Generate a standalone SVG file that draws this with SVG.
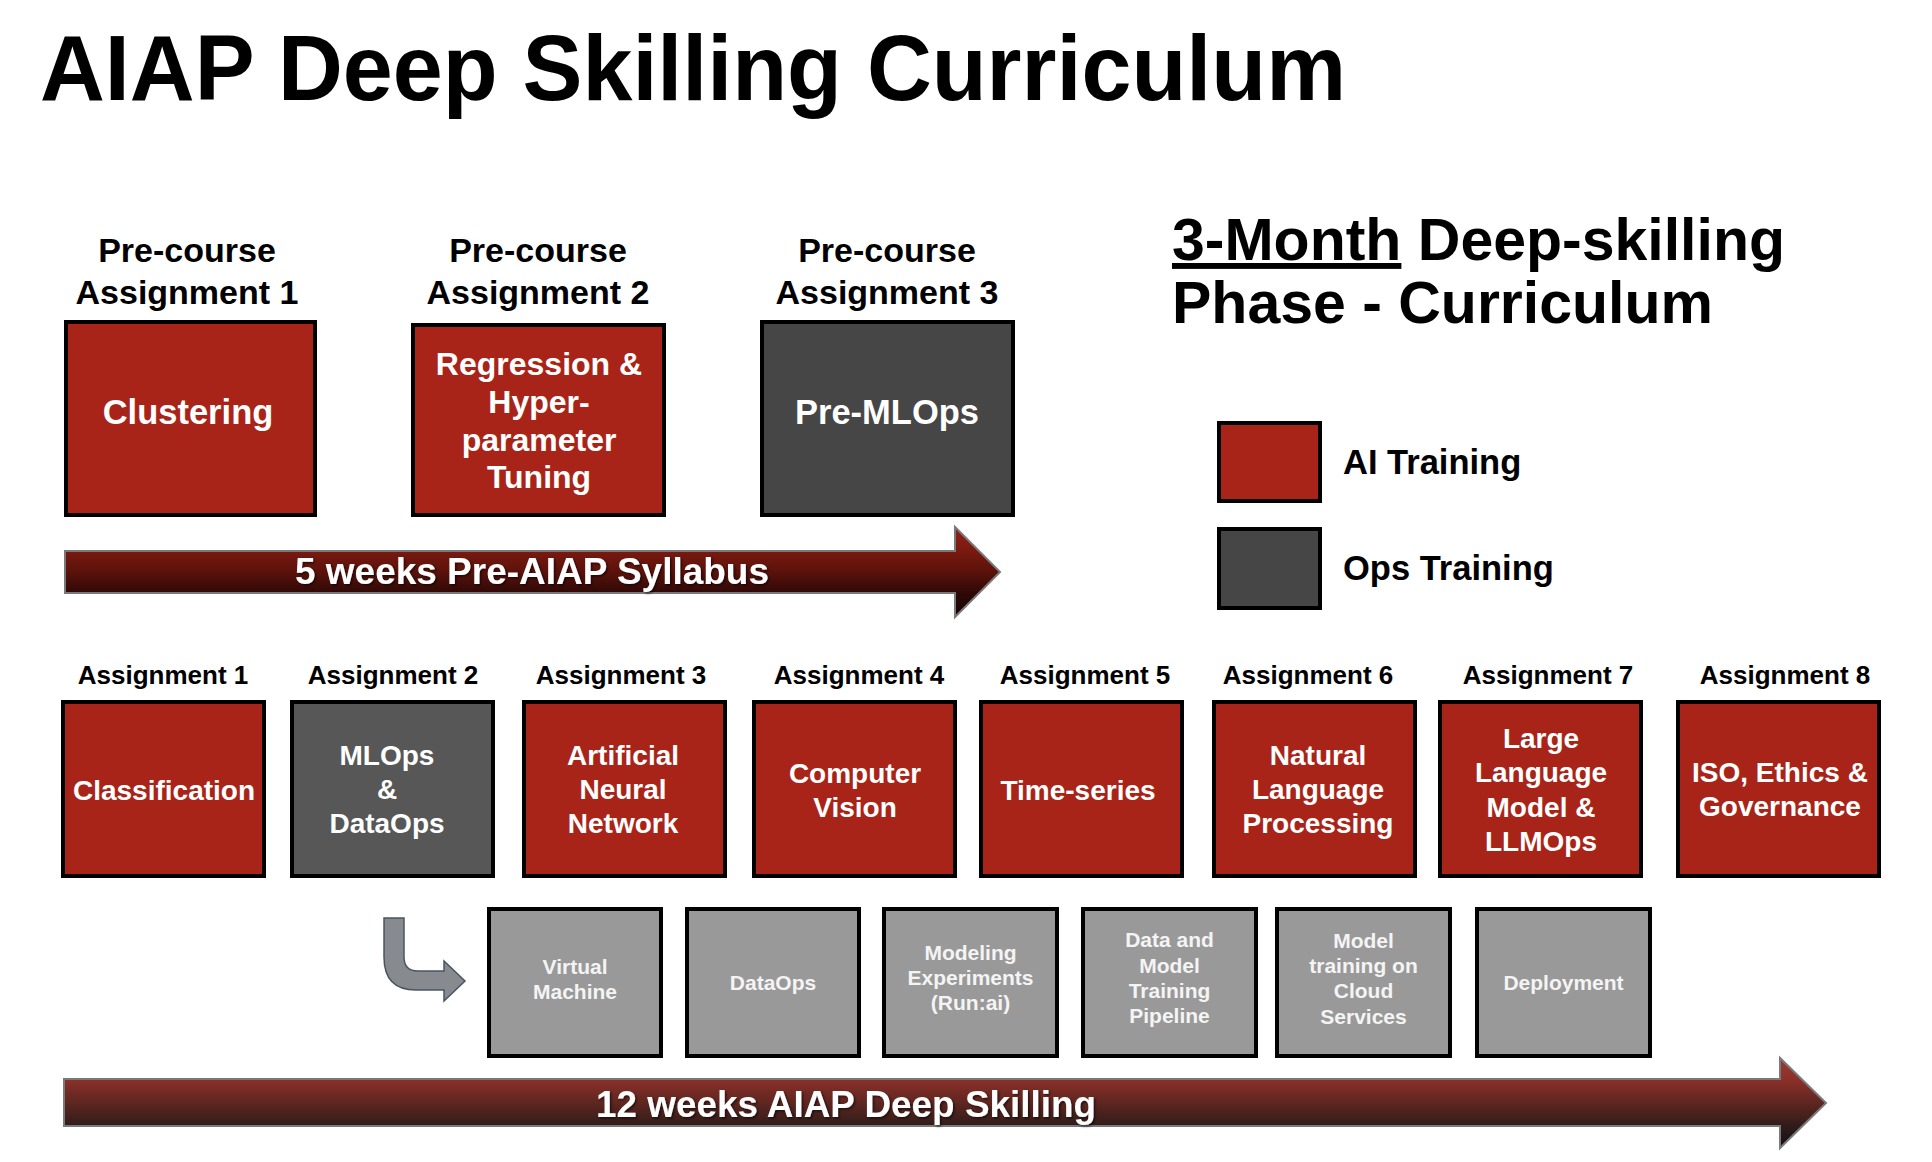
<svg xmlns="http://www.w3.org/2000/svg" width="1932" height="1162" viewBox="0 0 1932 1162">
<style>
text{font-family:"Liberation Sans",Arial,Helvetica,sans-serif;font-weight:bold}
.title{font-size:93px;fill:#000}
.hdr{font-size:59px;fill:#000}
.plabel{font-size:34px;fill:#000;text-anchor:middle}
.alabel{font-size:26px;fill:#000;text-anchor:middle}
.legtxt{font-size:34.5px;fill:#000}
.big{font-size:34.5px;fill:#fff;text-anchor:middle}
.mid{font-size:32px;fill:#fff;text-anchor:middle}
.btxt{font-size:28px;fill:#fff;text-anchor:middle}
.gtxt{font-size:21px;fill:#f4f4f4;text-anchor:middle}
.arrtxt{font-size:36px;fill:#fff;text-anchor:middle}
.red{fill:#A92418;stroke:#000;stroke-width:4}
.dark{fill:#464646;stroke:#000;stroke-width:4}
.mid-dark{fill:#575757;stroke:#000;stroke-width:4}
.grey{fill:#999999;stroke:#000;stroke-width:4}
</style>
<defs>
<linearGradient id="g1" gradientUnits="userSpaceOnUse" x1="0" y1="527" x2="0" y2="617">
<stop offset="0" stop-color="#8e2218"/>
<stop offset="0.25" stop-color="#7c1a10"/>
<stop offset="0.5" stop-color="#5a120b"/>
<stop offset="0.75" stop-color="#2c0806"/>
<stop offset="1" stop-color="#140303"/>
</linearGradient>
<linearGradient id="g2" gradientUnits="userSpaceOnUse" x1="0" y1="1058" x2="0" y2="1148">
<stop offset="0" stop-color="#9a3b31"/>
<stop offset="0.23" stop-color="#8c3129"/>
<stop offset="0.5" stop-color="#5e2620"/>
<stop offset="0.76" stop-color="#2f1c1a"/>
<stop offset="1" stop-color="#121010"/>
</linearGradient>
<filter id="sh" x="-5%" y="-20%" width="110%" height="150%">
<feDropShadow dx="1.5" dy="1.5" stdDeviation="1" flood-color="#000" flood-opacity="0.6"/>
</filter>
</defs>
<rect x="0" y="0" width="1932" height="1162" fill="#fff"/>

<g id="title">
<text class="title" x="40" y="100" textLength="1306" lengthAdjust="spacingAndGlyphs">AIAP Deep Skilling Curriculum</text>
</g>

<g id="header">
<text class="hdr" x="1172" y="260"><tspan text-decoration="underline">3-Month</tspan> Deep-skilling</text>
<text class="hdr" x="1172" y="323">Phase - Curriculum</text>
</g>

<g id="legend">
<g id="legend-ai">
<rect class="red" x="1219" y="423" width="101" height="78"/>
<text class="legtxt" x="1343" y="474">AI Training</text>
</g>
<g id="legend-ops">
<rect class="dark" x="1219" y="529" width="101" height="79"/>
<text class="legtxt" x="1343" y="580">Ops Training</text>
</g>
</g>

<g id="pre1">
<text class="plabel" x="187" y="262">Pre-course</text>
<text class="plabel" x="187" y="304">Assignment 1</text>
<rect class="red" x="66" y="322" width="249" height="193"/>
<text class="big" x="188" y="424">Clustering</text>
</g>
<g id="pre2">
<text class="plabel" x="538" y="262">Pre-course</text>
<text class="plabel" x="538" y="304">Assignment 2</text>
<rect class="red" x="413" y="325" width="251" height="190"/>
<text class="mid" x="539" y="375">Regression &amp;</text>
<text class="mid" x="539" y="413">Hyper-</text>
<text class="mid" x="539" y="451">parameter</text>
<text class="mid" x="539" y="488">Tuning</text>
</g>
<g id="pre3">
<text class="plabel" x="887" y="262">Pre-course</text>
<text class="plabel" x="887" y="304">Assignment 3</text>
<rect class="dark" x="762" y="322" width="251" height="193"/>
<text class="big" x="887" y="424">Pre-MLOps</text>
</g>

<g id="timeline-pre">
<path d="M65,551 H955 V527 L1000,572 L955,617 V593 H65 Z" fill="url(#g1)" stroke="#7a7a7a" stroke-width="2"/>
<text class="arrtxt" x="532" y="584" textLength="474" lengthAdjust="spacingAndGlyphs" filter="url(#sh)">5 weeks Pre-AIAP Syllabus</text>
</g>

<g id="a1">
<text class="alabel" x="163" y="684">Assignment 1</text>
<rect class="red" x="63" y="702" width="201" height="174"/>
<text class="btxt" x="164" y="800">Classification</text>
</g>
<g id="a2">
<text class="alabel" x="393" y="684">Assignment 2</text>
<rect class="mid-dark" x="292" y="702" width="201" height="174"/>
<text class="btxt" x="387" y="765">MLOps</text>
<text class="btxt" x="387" y="799">&amp;</text>
<text class="btxt" x="387" y="833">DataOps</text>
</g>
<g id="a3">
<text class="alabel" x="621" y="684">Assignment 3</text>
<rect class="red" x="524" y="702" width="201" height="174"/>
<text class="btxt" x="623" y="765">Artificial</text>
<text class="btxt" x="623" y="799">Neural</text>
<text class="btxt" x="623" y="833">Network</text>
</g>
<g id="a4">
<text class="alabel" x="859" y="684">Assignment 4</text>
<rect class="red" x="754" y="702" width="201" height="174"/>
<text class="btxt" x="855" y="783">Computer</text>
<text class="btxt" x="855" y="817">Vision</text>
</g>
<g id="a5">
<text class="alabel" x="1085" y="684">Assignment 5</text>
<rect class="red" x="981" y="702" width="201" height="174"/>
<text class="btxt" x="1078" y="800">Time-series</text>
</g>
<g id="a6">
<text class="alabel" x="1308" y="684">Assignment 6</text>
<rect class="red" x="1214" y="702" width="201" height="174"/>
<text class="btxt" x="1318" y="765">Natural</text>
<text class="btxt" x="1318" y="799">Language</text>
<text class="btxt" x="1318" y="833">Processing</text>
</g>
<g id="a7">
<text class="alabel" x="1548" y="684">Assignment 7</text>
<rect class="red" x="1440" y="702" width="201" height="174"/>
<text class="btxt" x="1541" y="748">Large</text>
<text class="btxt" x="1541" y="782">Language</text>
<text class="btxt" x="1541" y="817">Model &amp;</text>
<text class="btxt" x="1541" y="851">LLMOps</text>
</g>
<g id="a8">
<text class="alabel" x="1785" y="684">Assignment 8</text>
<rect class="red" x="1678" y="702" width="201" height="174"/>
<text class="btxt" x="1780" y="782">ISO, Ethics &amp;</text>
<text class="btxt" x="1780" y="816">Governance</text>
</g>

<g id="ops1">
<rect class="grey" x="489" y="909" width="172" height="147"/>
<text class="gtxt" x="575" y="974">Virtual</text>
<text class="gtxt" x="575" y="999">Machine</text>
</g>
<g id="ops2">
<rect class="grey" x="687" y="909" width="172" height="147"/>
<text class="gtxt" x="773" y="990">DataOps</text>
</g>
<g id="ops3">
<rect class="grey" x="884" y="909" width="173" height="147"/>
<text class="gtxt" x="970.5" y="960">Modeling</text>
<text class="gtxt" x="970.5" y="985">Experiments</text>
<text class="gtxt" x="970.5" y="1010">(Run:ai)</text>
</g>
<g id="ops4">
<rect class="grey" x="1083" y="909" width="173" height="147"/>
<text class="gtxt" x="1169.5" y="947">Data and</text>
<text class="gtxt" x="1169.5" y="973">Model</text>
<text class="gtxt" x="1169.5" y="998">Training</text>
<text class="gtxt" x="1169.5" y="1023">Pipeline</text>
</g>
<g id="ops5">
<rect class="grey" x="1277" y="909" width="173" height="147"/>
<text class="gtxt" x="1363.5" y="948">Model</text>
<text class="gtxt" x="1363.5" y="973">training on</text>
<text class="gtxt" x="1363.5" y="998">Cloud</text>
<text class="gtxt" x="1363.5" y="1024">Services</text>
</g>
<g id="ops6">
<rect class="grey" x="1477" y="909" width="173" height="147"/>
<text class="gtxt" x="1563.5" y="990">Deployment</text>
</g>

<g id="connectors">
<path d="M384,918 H404 V957 Q404,971 418,971 H444 V961 L465,981 L444,1001 V990 H416 Q384,990 384,957 Z" fill="#878b90" stroke="#4b5560" stroke-width="1.5"/>
</g>

<g id="timeline-main">
<path d="M64,1079 H1780 V1058 L1826,1103 L1780,1148 V1126 H64 Z" fill="url(#g2)" stroke="#7a7a7a" stroke-width="2"/>
<text class="arrtxt" x="846" y="1117" textLength="500" lengthAdjust="spacingAndGlyphs" filter="url(#sh)">12 weeks AIAP Deep Skilling</text>
</g>
</svg>
